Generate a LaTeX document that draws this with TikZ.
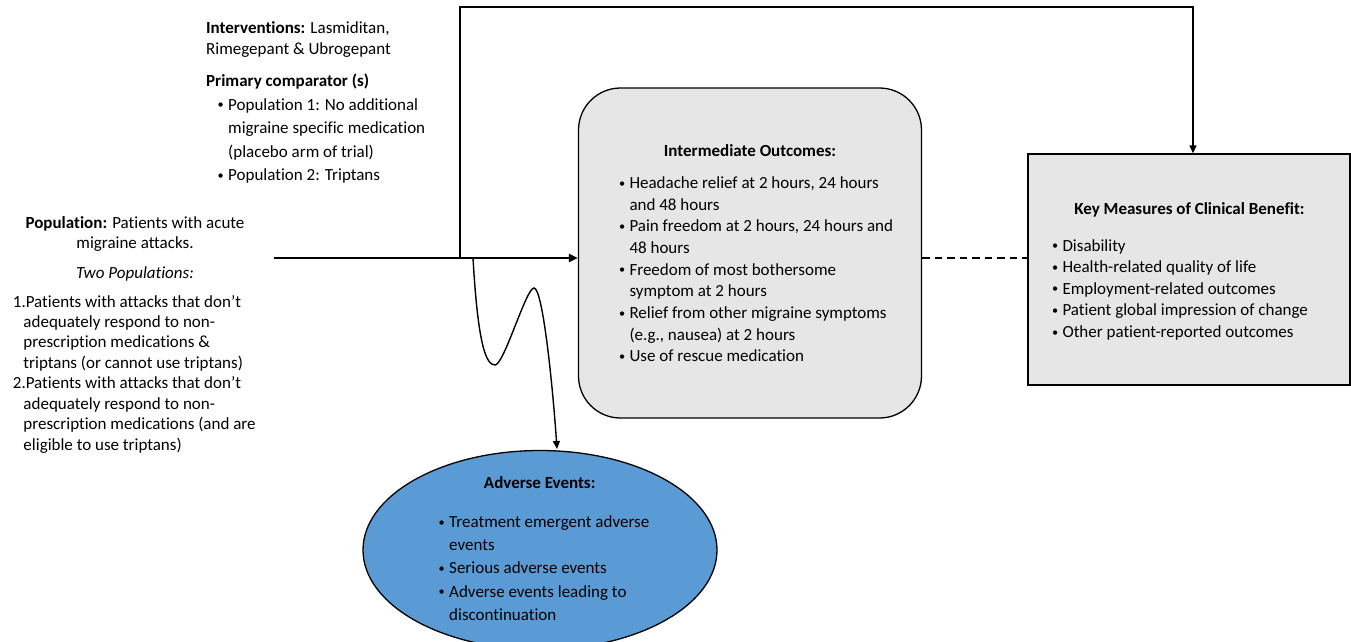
\documentclass[tikz,border=0pt]{standalone}
\usepackage{fontspec}
\setmainfont{Carlito}[Ligatures={TeX,NoCommon}]
\usetikzlibrary{arrows.meta,shapes.geometric}
\definecolor{boxgray}{HTML}{E6E6E6}
\definecolor{aeblue}{HTML}{5B9BD5}
\newcommand{\bulx}{\makebox[11.5pt][l]{\hspace*{1pt}\raisebox{1.3pt}{\scalebox{0.72}{•}}}}
\newcommand{\indx}{\hspace*{11.5pt}}
\begin{document}
\begin{tikzpicture}[x=1pt,y=-1pt,
  txt/.style={inner sep=0pt, font=\fontsize{17}{#1}\selectfont},
  conn/.style={line width=1.4pt, draw=black},
  tip/.style={-{Triangle[length=9pt,width=8pt]}},
  stip/.style={-{Triangle[length=8pt,width=7pt]}},
  outbox/.style={draw=black, line width=1.3pt, fill=boxgray, inner sep=0pt}]
\useasboundingbox (0,0) rectangle (1351,641);

% shapes
\node[outbox, rounded corners=42pt, minimum width=343pt, minimum height=330pt] (io) at (750,253) {};
\node[outbox, minimum width=322pt, minimum height=231pt] (km) at (1189,269.5) {};
\node[ellipse, draw=black, line width=1.3pt, fill=aeblue, minimum width=354pt, minimum height=199pt, inner sep=0pt] (ae) at (540,550) {};

% text: interventions / comparators
\node[txt=21, anchor=base west] (intv) at (206,33) {\begin{tabular}[t]{@{}l@{}}\textbf{Interventions:} Lasmiditan,\\ Rimegepant \& Ubrogepant\end{tabular}};
\node[txt=23.5, anchor=base west] (comp) at (206,86) {\begin{tabular}[t]{@{}l@{}}\textbf{Primary comparator (s)}\\[0.5pt]
\hspace*{10.5pt}\bulx Population 1: No additional\\
\hspace*{10.5pt}\indx migraine specific medication\\
\hspace*{10.5pt}\indx (placebo arm of trial)\\
\hspace*{10.5pt}\bulx Population 2: Triptans\end{tabular}};

% population
\node[txt=20, anchor=base] (pophead) at (135,228) {\begin{tabular}[t]{@{}c@{}}\textbf{Population:} Patients with acute\\ migraine attacks.\\[10pt] \textit{Two Populations:}\end{tabular}};
\node[txt=20.45, anchor=base west] (poplist) at (12.7,307) {\begin{tabular}[t]{@{}l@{}}1.Patients with attacks that don’t\\
\hspace*{10.6pt}adequately respond to non-\\
\hspace*{10.6pt}prescription medications \&\\
\hspace*{10.6pt}triptans (or cannot use triptans)\\
2.Patients with attacks that don’t\\
\hspace*{10.6pt}adequately respond to non-\\
\hspace*{10.6pt}prescription medications (and are\\
\hspace*{10.6pt}eligible to use triptans)\end{tabular}};

% intermediate outcomes
\node[txt=21.7, anchor=base] (iohead) at (750,156.7) {\textbf{Intermediate Outcomes:}};
\node[txt=21.7, anchor=base west] (iolist) at (617.8,188.3) {\begin{tabular}[t]{@{}l@{}}\bulx Headache relief at 2 hours, 24 hours\\
\indx and 48 hours\\
\bulx Pain freedom at 2 hours, 24 hours and\\
\indx 48 hours\\
\bulx Freedom of most bothersome\\
\indx symptom at 2 hours\\
\bulx Relief from other migraine symptoms\\
\indx (e.g., nausea) at 2 hours\\
\bulx Use of rescue medication\end{tabular}};

% key measures
\node[txt=21.6, anchor=base] (kmhead) at (1189.5,214) {\textbf{Key Measures of Clinical Benefit:}};
\node[txt=21.6, anchor=base west] (kmlist) at (1050.8,251) {\begin{tabular}[t]{@{}l@{}}\bulx Disability\\
\bulx Health-related quality of life\\
\bulx Employment-related outcomes\\
\bulx Patient global impression of change\\
\bulx Other patient-reported outcomes\end{tabular}};

% adverse events
\node[txt=23.3, anchor=base] (aehead) at (539.7,488.3) {\textbf{Adverse Events:}};
\node[txt=23.3, anchor=base west] (aelist) at (437.5,527.3) {\begin{tabular}[t]{@{}l@{}}\bulx Treatment emergent adverse\\
\indx events\\
\bulx Serious adverse events\\
\bulx Adverse events leading to\\
\indx discontinuation\end{tabular}};

% connectors
\coordinate (pstart) at (274,258);
\coordinate (fb) at (460,258);
\coordinate (fbtop) at (460,7);
\coordinate (ws) at (473,258);
\coordinate (wmin) at (495,365);
\coordinate (wpeak) at (534,288);
\coordinate (we) at (557,449);

\draw[line width=2.2pt, tip] (pstart) -- (pstart -| io.west);
\draw[conn, stip] (fb) -- (fbtop) -| ([xshift=4pt]km.north);
\draw[conn, stip] (ws) .. controls (478,345) and (486,365) .. (wmin)
  .. controls (504,365) and (526,288) .. (wpeak)
  .. controls (543,288) and (553,390) .. (we);
\draw[line width=1.8pt, dash pattern=on 7.5pt off 5pt] (pstart -| io.east) -- (pstart -| km.west);
\end{tikzpicture}
\end{document}
